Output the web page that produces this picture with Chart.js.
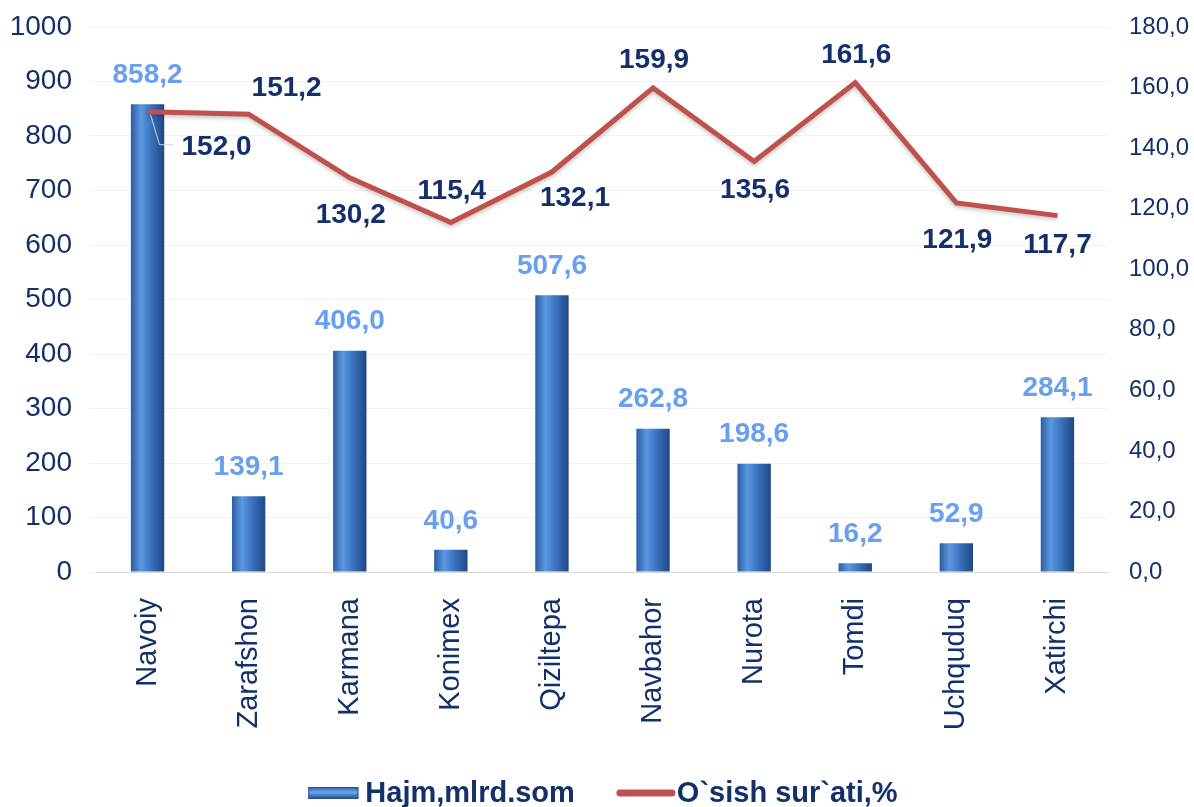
<!DOCTYPE html>
<html>
<head>
<meta charset="utf-8">
<script src="https://cdn.jsdelivr.net/npm/chart.js@4/dist/chart.umd.min.js"></script>
<style>
  html, body { margin: 0; padding: 0; background: #fff; }
  #wrap { width: 1194px; height: 807px; }
</style>
</head>
<body>
<div id="wrap"><canvas id="chart"></canvas></div>
<script>
const districts = ["Navoiy", "Zarafshon", "Karmana", "Konimex", "Qiziltepa", "Navbahor", "Nurota", "Tomdi", "Uchquduq", "Xatirchi"];
const volume = [858.2, 139.1, 406.0, 40.6, 507.6, 262.8, 198.6, 16.2, 52.9, 284.1];
const growth = [152.0, 151.2, 130.2, 115.4, 132.1, 159.9, 135.6, 161.6, 121.9, 117.7];
const leftTicks = [0, 100, 200, 300, 400, 500, 600, 700, 800, 900, 1000];
const rightTicks = [0, 20, 40, 60, 80, 100, 120, 140, 160, 180];
const seriesNames = ["Hajm,mlrd.som", "O`sish sur`ati,%"];

const FONT = "'Liberation Sans', Arial, sans-serif";
const navy = "#13306a";
const red = "#c0504d";
const fmt = v => v.toFixed(1).replace(".", ",");
const BAR_PCT = 0.33;

// label offsets for the growth line (px from the point)
const lineLabelOffset = [[69, 36], [38, -26], [1, 37], [1, -31], [23, 26], [1, -28], [1, 29], [1, -27], [1, 37], [0, 30]];

const barFill = (c) => {
  const chart = c.chart;
  const xs = chart.scales.x;
  if (!xs || c.dataIndex === undefined) return "#3d78c4";
  const cx = xs.getPixelForValue(c.dataIndex);
  const half = (xs.width / districts.length) * BAR_PCT / 2;
  if (!isFinite(cx) || !isFinite(half) || half <= 0) return "#3d78c4";
  const g = chart.ctx.createLinearGradient(cx - half, 0, cx + half, 0);
  g.addColorStop(0, "#2b5ca3");
  g.addColorStop(0.3, "#5b98e0");
  g.addColorStop(0.6, "#3b73bf");
  g.addColorStop(1, "#1e4784");
  return g;
};

const labelsPlugin = {
  id: "labels",
  beforeDatasetDraw(chart, args) {
    if (args.index === 1) {
      chart.ctx.save();
      chart.ctx.shadowColor = "rgba(0,0,0,0.25)";
      chart.ctx.shadowBlur = 4;
      chart.ctx.shadowOffsetY = 2;
    }
  },
  afterDatasetDraw(chart, args) {
    if (args.index === 1) chart.ctx.restore();
  },
  afterDatasetsDraw(chart) {
    const ctx = chart.ctx;
    ctx.save();
    ctx.textAlign = "center";
    ctx.textBaseline = "middle";
    ctx.font = "bold 28px " + FONT;
    ctx.fillStyle = "#6a9ff0";
    chart.getDatasetMeta(0).data.forEach((el, i) => {
      ctx.fillText(fmt(volume[i]), el.x, el.y - 29);
    });
    const pts = chart.getDatasetMeta(1).data;
    ctx.strokeStyle = "#c9d6e6";
    ctx.lineWidth = 1;
    ctx.beginPath();
    ctx.moveTo(pts[0].x + 3, pts[0].y + 3);
    ctx.lineTo(pts[0].x + 12, pts[0].y + 33);
    ctx.lineTo(pts[0].x + 26, pts[0].y + 33);
    ctx.stroke();
    ctx.fillStyle = navy;
    pts.forEach((el, i) => {
      const o = lineLabelOffset[i];
      ctx.fillText(fmt(growth[i]), el.x + o[0], el.y + o[1]);
    });
    ctx.restore();
  },
  afterDraw(chart) {
    // legend along the bottom
    const ctx = chart.ctx;
    ctx.save();
    ctx.font = "bold 29px " + FONT;
    ctx.textBaseline = "middle";
    ctx.textAlign = "left";
    const w1 = ctx.measureText(seriesNames[0]).width;
    const w2 = ctx.measureText(seriesNames[1]).width;
    const total = 50 + 7 + w1 + 42 + 58 + 2 + w2;
    let x = 603 - total / 2;
    const y = 793;
    const g = ctx.createLinearGradient(0, y - 6, 0, y + 6);
    g.addColorStop(0, "#2c5ea8");
    g.addColorStop(0.45, "#6aa6ea");
    g.addColorStop(1, "#1f4a8a");
    ctx.fillStyle = g;
    ctx.fillRect(x, y - 6, 50, 12);
    ctx.strokeStyle = "#244f8f";
    ctx.lineWidth = 1;
    ctx.strokeRect(x + 0.5, y - 5.5, 49, 11);
    x += 57;
    ctx.fillStyle = navy;
    ctx.fillText(seriesNames[0], x, y + 1);
    x += w1 + 42;
    ctx.strokeStyle = red;
    ctx.lineWidth = 7;
    ctx.lineCap = "round";
    ctx.beginPath();
    ctx.moveTo(x + 3, y);
    ctx.lineTo(x + 55, y);
    ctx.stroke();
    x += 60;
    ctx.fillText(seriesNames[1], x, y + 1);
    ctx.restore();
  }
};

new Chart(document.getElementById("chart"), {
  data: {
    labels: districts,
    datasets: [
      {
        type: "bar",
        label: seriesNames[0],
        data: volume,
        yAxisID: "y",
        backgroundColor: barFill,
        borderWidth: 0,
        barPercentage: BAR_PCT,
        categoryPercentage: 1,
        order: 2
      },
      {
        type: "line",
        label: seriesNames[1],
        data: growth,
        yAxisID: "y1",
        borderColor: red,
        backgroundColor: red,
        borderWidth: 5,
        pointRadius: 0,
        tension: 0,
        order: 1
      }
    ]
  },
  options: {
    responsive: true,
    maintainAspectRatio: false,
    animation: false,
    layout: { padding: { top: 0, bottom: 40 } },
    plugins: {
      tooltip: { enabled: false },
      legend: { display: false }
    },
    scales: {
      x: {
        grid: { display: false },
        border: { color: "#d9d9d9" },
        ticks: {
          color: navy,
          font: { family: FONT, size: 29 },
          maxRotation: 90,
          minRotation: 90,
          padding: 18
        },
        afterFit(s) { s.height = 195; s.paddingLeft = 0; s.paddingRight = 0; }
      },
      y: {
        position: "left",
        min: 0,
        max: 1000,
        afterBuildTicks(s) { s.ticks = leftTicks.map(v => ({ value: v })); },
        grid: { color: "#f2f2f2" },
        border: { display: false },
        ticks: {
          color: navy,
          font: { family: FONT, size: 28 },
          padding: 17,
          callback: v => String(v)
        },
        afterFit(s) { s.width = 97; s.paddingTop = 27; }
      },
      y1: {
        position: "right",
        min: 0,
        max: 180,
        afterBuildTicks(s) { s.ticks = rightTicks.map(v => ({ value: v })); },
        grid: { display: false },
        border: { display: false },
        ticks: {
          color: navy,
          font: { family: FONT, size: 24 },
          padding: 13,
          callback: v => fmt(v)
        },
        afterFit(s) { s.width = 86; s.paddingTop = 27; }
      }
    }
  },
  plugins: [labelsPlugin]
});
</script>
</body>
</html>
